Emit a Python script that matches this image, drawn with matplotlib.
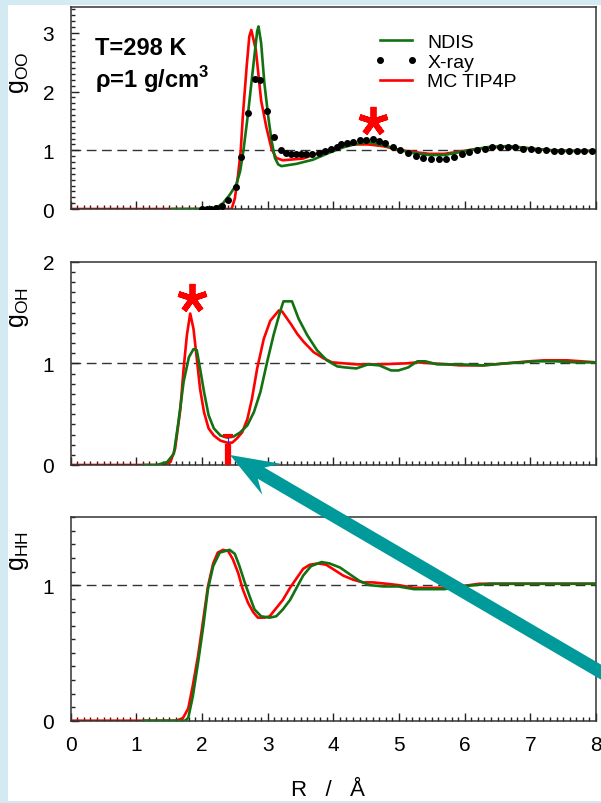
import numpy as np
import matplotlib
matplotlib.use("Agg")
from matplotlib import pyplot as plt
from matplotlib.ticker import MultipleLocator
from matplotlib.patches import Rectangle, FancyArrow
from matplotlib.lines import Line2D

plt.rcParams['font.family'] = ['Liberation Sans', 'DejaVu Sans']
plt.rcParams['mathtext.fontset'] = 'custom'
plt.rcParams['mathtext.rm'] = 'Liberation Sans'
plt.rcParams['mathtext.bf'] = 'Liberation Sans:bold'

# ---- g_OO ----
r_oo_ndis = [1.55, 2.1, 2.22, 2.32, 2.42, 2.52, 2.58, 2.63, 2.70, 2.78, 2.84, 2.86, 2.90, 2.95,
             3.01, 3.06, 3.11, 3.16, 3.21, 3.44, 3.69, 3.94, 4.15, 4.35, 4.53, 4.76, 4.99,
             5.23, 5.46, 5.69, 5.93, 6.16, 6.39, 6.63, 6.86, 7.09, 7.33, 7.56, 7.80, 8.0]
g_oo_ndis = [0, 0, 0.02, 0.10, 0.24, 0.41, 0.64, 0.99, 1.62, 2.43, 3.03, 3.11, 2.83, 2.14,
             1.56, 1.16, 0.87, 0.76, 0.73, 0.77, 0.84, 0.96, 1.05, 1.11, 1.14, 1.09, 1.01,
             0.95, 0.92, 0.92, 0.97, 1.02, 1.06, 1.07, 1.05, 1.02, 1.00, 0.99, 0.99, 0.99]
r_oo_mc = [0, 2.45, 2.50, 2.55, 2.59, 2.62, 2.68, 2.72, 2.75, 2.82, 2.90, 2.98, 3.06, 3.13,
           3.23, 3.54, 3.79, 4.05, 4.30, 4.53, 4.76, 4.99, 5.23, 5.46, 5.69, 5.93, 6.16,
           6.39, 6.63, 6.86, 7.09, 7.33, 7.56, 8.0]
g_oo_mc = [0, 0, 0.18, 0.59, 1.0, 1.56, 2.43, 2.94, 3.05, 2.71, 1.85, 1.39, 1.02, 0.87,
           0.83, 0.86, 0.96, 1.03, 1.10, 1.10, 1.07, 1.01, 0.97, 0.94, 0.94, 0.98, 1.02,
           1.05, 1.06, 1.05, 1.02, 1.0, 0.99, 0.99]
r_oo_xray = [2.0, 2.07, 2.14, 2.22, 2.30, 2.40, 2.51, 2.60, 2.70, 2.80, 2.89, 2.99, 3.10, 3.20,
             3.28, 3.36, 3.43, 3.50, 3.58, 3.68, 3.78, 3.88, 3.97, 4.05, 4.12, 4.21, 4.30,
             4.40, 4.50, 4.60, 4.70, 4.79, 4.91, 5.02, 5.14, 5.26, 5.37, 5.49, 5.61, 5.72,
             5.84, 5.96, 6.07, 6.19, 6.31, 6.42, 6.54, 6.66, 6.77, 6.89, 7.01, 7.12, 7.24,
             7.36, 7.47, 7.59, 7.71, 7.82, 7.94]
g_oo_xray = [0, 0, 0, 0.01, 0.05, 0.16, 0.38, 0.88, 1.64, 2.22, 2.20, 1.67, 1.22, 1.01,
             0.96, 0.94, 0.94, 0.94, 0.94, 0.94, 0.96, 0.99, 1.03, 1.06, 1.10, 1.12, 1.14,
             1.17, 1.18, 1.19, 1.16, 1.12, 1.06, 1.01, 0.95, 0.91, 0.87, 0.86, 0.85, 0.86,
             0.89, 0.93, 0.97, 1.01, 1.03, 1.06, 1.06, 1.06, 1.05, 1.03, 1.02, 1.01, 1.00,
             0.99, 0.99, 0.98, 0.98, 0.98, 0.98]

# ---- g_OH ----
r_oh_ndis = [1.11, 1.31, 1.47, 1.57, 1.64, 1.72, 1.80, 1.87, 1.92, 1.97, 2.03, 2.10, 2.18,
             2.28, 2.38, 2.48, 2.58, 2.69, 2.79, 2.89, 2.99, 3.09, 3.19, 3.24, 3.37, 3.47,
             3.60, 3.75, 3.90, 4.06, 4.18, 4.35, 4.53, 4.70, 4.88, 4.99, 5.14, 5.28, 5.40,
             5.58, 5.93, 6.28, 6.45, 6.63, 7.09, 7.39, 7.68, 8.0]
g_oh_ndis = [0, 0, 0.03, 0.11, 0.42, 0.82, 1.06, 1.14, 1.13, 0.95, 0.72, 0.49, 0.36,
             0.29, 0.27, 0.28, 0.32, 0.39, 0.52, 0.72, 1.01, 1.28, 1.51, 1.61, 1.61, 1.44,
             1.28, 1.13, 1.03, 0.97, 0.96, 0.95, 0.99, 0.98, 0.93, 0.93, 0.96, 1.02, 1.02,
             0.99, 0.99, 0.98, 0.99, 1.0, 1.02, 1.02, 1.01, 1.01]
r_oh_mc = [0, 1.42, 1.52, 1.59, 1.67, 1.72, 1.77, 1.82, 1.87, 1.92, 1.97, 2.03, 2.10, 2.18,
           2.28, 2.38, 2.46, 2.53, 2.61, 2.69, 2.76, 2.84, 2.94, 3.04, 3.17, 3.22, 3.35,
           3.45, 3.55, 3.70, 3.85, 3.98, 4.35, 4.70, 5.11, 5.28, 5.52, 5.93, 6.28, 6.63,
           6.98, 7.21, 7.56, 8.0]
g_oh_mc = [0, 0, 0.03, 0.16, 0.55, 0.95, 1.28, 1.49, 1.34, 1.05, 0.75, 0.52, 0.36, 0.29,
           0.24, 0.22, 0.22, 0.26, 0.32, 0.45, 0.65, 0.95, 1.24, 1.42, 1.52, 1.51, 1.39,
           1.29, 1.21, 1.11, 1.05, 1.01, 0.99, 0.99, 1.0, 1.01, 1.0, 0.98, 0.98, 1.0,
           1.02, 1.03, 1.03, 1.01]

# ---- g_HH ----
r_hh_ndis = [1.11, 1.74, 1.79, 1.86, 1.94, 2.02, 2.09, 2.17, 2.27, 2.42, 2.50, 2.57, 2.65,
             2.73, 2.80, 2.90, 3.03, 3.13, 3.23, 3.34, 3.44, 3.54, 3.66, 3.82, 3.94, 4.10,
             4.25, 4.40, 4.55, 4.76, 4.99, 5.23, 5.46, 5.69, 5.93, 6.16, 6.39, 8.0]
g_hh_ndis = [0, 0, 0.02, 0.18, 0.43, 0.70, 0.97, 1.14, 1.24, 1.26, 1.23, 1.14, 1.02,
             0.91, 0.82, 0.77, 0.76, 0.77, 0.82, 0.89, 0.98, 1.07, 1.14, 1.17, 1.16, 1.13,
             1.08, 1.03, 1.0, 0.99, 0.99, 0.97, 0.97, 0.97, 0.99, 1.0, 1.01, 1.01]
r_hh_mc = [0, 1.61, 1.71, 1.79, 1.86, 1.94, 2.02, 2.09, 2.17, 2.24, 2.32, 2.40, 2.47, 2.55,
           2.62, 2.70, 2.78, 2.85, 2.95, 3.03, 3.13, 3.23, 3.34, 3.44, 3.54, 3.64, 3.77,
           3.89, 3.99, 4.15, 4.30, 4.45, 4.60, 4.81, 4.99, 5.23, 5.46, 5.69, 5.93, 6.22,
           6.51, 8.0]
g_hh_mc = [0, 0, 0.02, 0.09, 0.26, 0.48, 0.75, 0.99, 1.16, 1.24, 1.26, 1.25, 1.19, 1.09,
           0.97, 0.87, 0.80, 0.76, 0.76, 0.77, 0.83, 0.89, 0.98, 1.05, 1.12, 1.15, 1.16,
           1.15, 1.12, 1.07, 1.04, 1.02, 1.02, 1.01, 1.0, 0.98, 0.98, 0.98, 0.99, 1.01,
           1.01, 1.01]

# annotation marks
star_oo = (4.6, 1.50)
star_oh = (1.84, 1.64)
min_r = 2.40          # first minimum of g_OH (red bar)
min_bar_top = 0.21
min_cap = 0.29

GREEN = '#127212'
RED = '#ff0000'
TEAL = '#009a9a'

W, H = 601, 804
fig = plt.figure(figsize=(W / 100, H / 100), dpi=100, facecolor='#d3eaf2')
fig.add_artist(Rectangle((8 / W, 1 - 802 / H), (W - 8) / W, (802 - 6) / H,
                         transform=fig.transFigure, facecolor='white',
                         edgecolor='none', zorder=0))

left, width = 70.7 / W, 525.3 / W
ax1 = fig.add_axes([left, (H - 210) / H, width, 202.5 / H])
ax2 = fig.add_axes([left, (H - 466) / H, width, 203.3 / H])
ax3 = fig.add_axes([left, (H - 721.7) / H, width, 203.4 / H])

panels = [
    (ax1, r_oo_mc, g_oo_mc, r_oo_ndis, g_oo_ndis, 3.45, r'$\mathregular{g_{OO}}$', 0.68),
    (ax2, r_oh_mc, g_oh_mc, r_oh_ndis, g_oh_ndis, 2.0, r'$\mathregular{g_{OH}}$', 0.78),
    (ax3, r_hh_mc, g_hh_mc, r_hh_ndis, g_hh_ndis, 1.5, r'$\mathregular{g_{HH}}$', 0.84),
]

for ax, rm, gm, rn, gn, ytop, lab, ly in panels:
    ax.axhline(1, color='#333333', lw=1, dashes=(7, 4), zorder=1)
    ax.plot(rm, gm, color=RED, lw=1.9, zorder=2, label='MC TIP4P')
    ax.plot(rn, gn, color=GREEN, lw=1.9, zorder=3, label='NDIS')
    ax.set_xlim(0, 8)
    ax.set_ylim(0, ytop)
    ax.xaxis.set_major_locator(MultipleLocator(1))
    ax.xaxis.set_minor_locator(MultipleLocator(0.1))
    ax.yaxis.set_major_locator(MultipleLocator(1))
    ax.yaxis.set_minor_locator(MultipleLocator(0.1))
    ax.tick_params(which='both', direction='in', top=False, right=False,
                   color='#222222', width=1)
    ax.tick_params(which='major', length=6, labelsize=15, pad=12)
    ax.tick_params(which='minor', length=3)
    ax.tick_params(axis='x', which='major', pad=10)
    for s in ax.spines.values():
        s.set_linewidth(1.1)
        s.set_color('#333333')
    ax.set_ylabel(lab, fontsize=18)
    ax.yaxis.set_label_coords(-0.075, ly)
    ax.patch.set_alpha(0)

ax1.tick_params(axis='x', labelbottom=False)
ax2.tick_params(axis='x', labelbottom=False)

ax1.plot(r_oo_xray, g_oo_xray, 'o', color='black', ms=4, zorder=4, label='X-ray')

h_ndis = Line2D([], [], color=GREEN, lw=1.9)
h_xray = Line2D([], [], color='black', marker='o', ms=4, ls='none')
h_mc = Line2D([], [], color=RED, lw=1.9)
ax1.legend([h_ndis, h_xray, h_mc], ['NDIS', 'X-ray', 'MC TIP4P'], loc='upper left',
           bbox_to_anchor=(0.577, 0.866), frameon=False, fontsize=14, numpoints=2,
           handlelength=2.25, handletextpad=0.5, labelspacing=0.1,
           borderpad=0, borderaxespad=0)

ax1.text(0.047, 0.855, 'T=298 K', transform=ax1.transAxes, fontsize=17,
         fontweight='bold', va='top', ha='left')
ax1.text(0.047, 0.722, r'ρ=1 g/cm$^{\mathbf{3}}$', transform=ax1.transAxes, fontsize=17,
         fontweight='bold', va='top', ha='left')

ax1.plot(*star_oo, marker=(5, 2, 0), ms=21, mew=4.2, color=RED, zorder=5)
ax2.plot(*star_oh, marker=(5, 2, 0), ms=21, mew=4.2, color=RED, zorder=5)

# first minimum marker in g_OH
ax2.vlines(min_r, 0, min_cap, color='#2030ff', lw=0.8, zorder=4)
ax2.vlines(min_r, 0, min_bar_top, color=RED, lw=4.5, zorder=5)
ax2.plot(min_r, min_cap, marker='_', ms=7, mew=3, color=RED, zorder=5)

ax3.set_xlabel('R   /   Å', fontsize=16)
ax3.xaxis.set_label_coords(0.49, -0.285)
ax3.xaxis.label.set_va('top')

# overlay in pixel coordinates for the pointing arrow
ov = fig.add_axes([0, 0, 1, 1], zorder=10)
ov.set_xlim(0, W)
ov.set_ylim(H, 0)
ov.axis('off')
ov.patch.set_alpha(0)
tip = np.array([230.0, 456.0])
direc = np.array([0.863, 0.505])
tail = tip + 520 * direc
ov.add_patch(FancyArrow(tail[0], tail[1], tip[0] - tail[0], tip[1] - tail[1],
                        width=13, head_width=36, head_length=48, overhang=0.25,
                        length_includes_head=True, color=TEAL, lw=0))

fig.savefig('out.png', dpi=100, facecolor=fig.get_facecolor())
